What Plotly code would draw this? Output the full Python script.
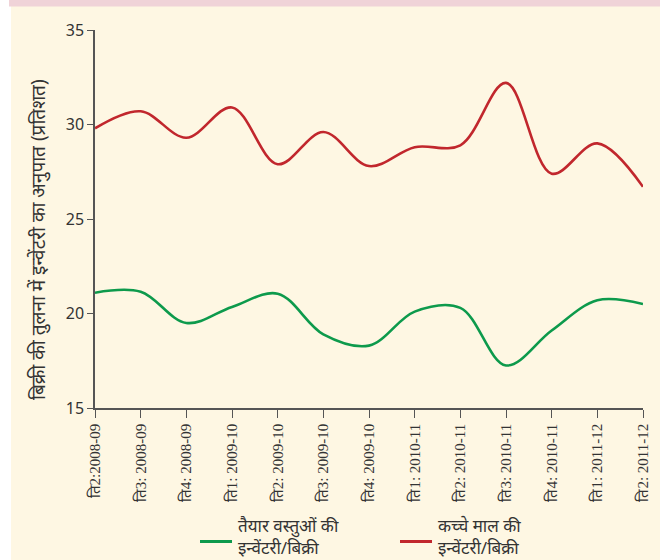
import plotly.graph_objects as go

categories = ["ति2:2008-09", "ति3: 2008-09", "ति4: 2008-09", "ति1: 2009-10",
              "ति2: 2009-10", "ति3: 2009-10", "ति4: 2009-10", "ति1: 2010-11",
              "ति2: 2010-11", "ति3: 2010-11", "ति4: 2010-11", "ति1: 2011-12",
              "ति2: 2011-12"]
finished_goods = [21.1, 21.15, 19.5, 20.35, 21.05, 18.9, 18.3, 20.1, 20.3, 17.25, 19.1, 20.7, 20.5]
raw_material = [29.8, 30.7, 29.3, 30.9, 27.9, 29.6, 27.8, 28.8, 28.9, 32.2, 27.4, 29.0, 26.7]
y_ticks = [15, 20, 25, 30, 35]

series_names = ["तैयार वस्तुओं की<br>इन्वेंटरी/बिक्री", "कच्चे माल की<br>इन्वेंटरी/बिक्री"]
series_colors = ["#0d9a4c", "#c1272d"]
y_title = "बिक्री की तुलना में इन्वेंटरी का अनुपात (प्रतिशत)"

W, H = 660, 560
ml, mr, mt, mb = 95, 17, 30, 152
pw, ph = W - ml - mr, H - mt - mb

def px_x(p):
    return (p - ml) / pw

def px_y(p):
    return (H - mb - p) / ph

cream = "#fef7e3"
fig = go.Figure()
for vals, name, col in zip([finished_goods, raw_material], series_names, series_colors):
    fig.add_trace(go.Scatter(x=categories, y=vals, mode="lines", name=name,
                             line=dict(color=col, width=2.6, shape="spline")))

shapes = [
    dict(type="rect", xref="paper", yref="paper", x0=px_x(-5), x1=px_x(11), y0=px_y(570), y1=px_y(-5),
         fillcolor="white", line=dict(width=0), layer="below"),
    dict(type="rect", xref="paper", yref="paper", x0=px_x(9), x1=px_x(670), y0=px_y(6.5), y1=px_y(-5),
         fillcolor="#f0d3d8", line=dict(width=0), layer="below"),
]
annotations = [
    dict(text=y_title, xref="paper", yref="paper", x=px_x(38), y=px_y(240), textangle=-90,
         showarrow=False, font=dict(size=19, color="#333333"), xanchor="center", yanchor="middle"),
]
legend_x = [200, 400]
for lx, name, col in zip(legend_x, series_names, series_colors):
    shapes.append(dict(type="line", xref="paper", yref="paper", x0=px_x(lx), x1=px_x(lx + 32),
                       y0=px_y(541.5), y1=px_y(541.5), line=dict(color=col, width=3)))
    annotations.append(dict(text=name, xref="paper", yref="paper", x=px_x(lx + 36), y=px_y(536),
                            xanchor="left", yanchor="middle", align="left", showarrow=False,
                            font=dict(size=17, color="#333333")))

fig.update_layout(
    width=W, height=H,
    margin=dict(l=ml, r=mr, t=mt, b=mb, autoexpand=False),
    paper_bgcolor=cream, plot_bgcolor=cream,
    font=dict(family="Noto Sans, DejaVu Sans, sans-serif", color="#333333"),
    showlegend=False,
    xaxis=dict(type="category", range=[0, len(categories) - 1], showgrid=False, zeroline=False,
               automargin=False,
               showline=True, linecolor="#555555", linewidth=1.5, ticks="outside", ticklen=8,
               tickcolor="#555555", tickangle=-90,
               tickfont=dict(size=15, family="Liberation Serif, serif", color="#333333")),
    yaxis=dict(range=[15, 35], tickvals=y_ticks, showgrid=False, zeroline=False, automargin=False,
               showline=True, linecolor="#555555", linewidth=1.5, ticks="outside", ticklen=6,
               tickcolor="#555555", tickfont=dict(size=16, color="#333333")),
    shapes=shapes,
    annotations=annotations,
)

fig.write_html("out.html", config={"displayModeBar": False},
               post_script="document.body.style.margin='0';document.body.style.overflow='hidden';")
